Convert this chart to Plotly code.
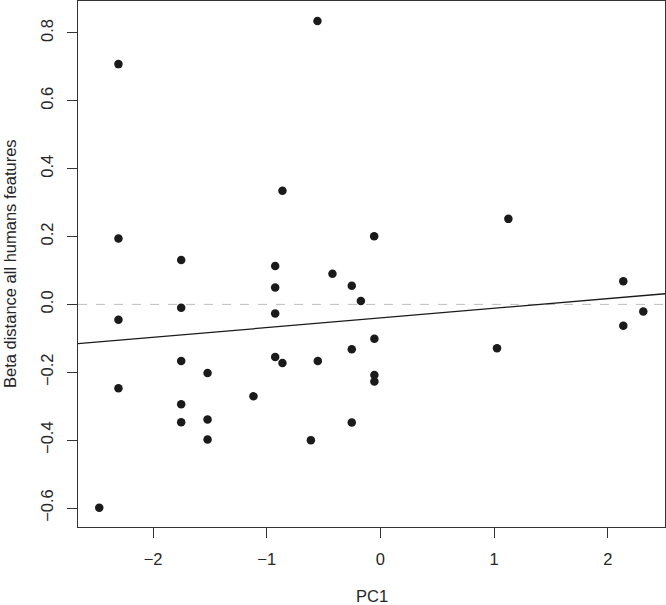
import plotly.graph_objects as go

pc1 = [-2.305, -2.305, -1.753, -0.862, -0.926, -0.926, -1.753, -2.305, -0.926, -1.753,
       -1.521, -2.305, -1.117, -0.926, -0.862, -1.753, -1.753, -1.521, -1.521, -2.474,
       -0.554, 1.126, -0.055, -0.422, -0.252, -0.172, 2.137, 2.313, 2.137, 1.026,
       -0.053, -0.252, -0.551, -0.053, -0.053, -0.252, -0.612]
beta = [0.708, 0.194, 0.131, 0.335, 0.113, 0.050, -0.010, -0.045, -0.027, -0.167,
        -0.202, -0.247, -0.271, -0.155, -0.173, -0.294, -0.347, -0.339, -0.398, -0.599,
        0.835, 0.252, 0.201, 0.090, 0.055, 0.010, 0.068, -0.021, -0.063, -0.129,
        -0.101, -0.132, -0.167, -0.208, -0.227, -0.348, -0.400]

fit_intercept = -0.040
fit_slope = 0.0285

x_ticks = [-2, -1, 0, 1, 2]
y_ticks = [-0.6, -0.4, -0.2, 0.0, 0.2, 0.4, 0.6, 0.8]
y_tick_labels = ["-0.6", "-0.4", "-0.2", "0.0", "0.2", "0.4", "0.6", "0.8"]
x_tick_labels = ["\u22122", "\u22121", "0", "1", "2"]
y_tick_labels = [s.replace("-", "\u2212") for s in y_tick_labels]

x_range = [-2.661, 2.504]
y_range = [-0.656, 0.894]

font_family = "Liberation Sans, Arial, Helvetica, sans-serif"
font_size = 16.5
text_color = "#262626"

fig = go.Figure()

fig.add_shape(type="line", xref="x", yref="y", x0=x_range[0], x1=x_range[1], y0=0, y1=0,
              line=dict(color="#bdbdbd", width=1, dash="dash"), layer="below")

fig.add_trace(go.Scatter(
    x=x_range,
    y=[fit_intercept + fit_slope * v for v in x_range],
    mode="lines", line=dict(color="#1a1a1a", width=1.3), hoverinfo="skip", showlegend=False))

fig.add_trace(go.Scatter(
    x=pc1, y=beta, mode="markers",
    marker=dict(size=8.5, color="#1a1a1a", line=dict(width=0)), showlegend=False))

axis_common = dict(
    showline=True, linecolor="#333333", linewidth=1, mirror=True,
    ticks="outside", ticklen=10, tickwidth=1, tickcolor="#333333",
    showgrid=False, zeroline=False,
    tickfont=dict(family=font_family, size=font_size, color=text_color),
)

fig.update_xaxes(range=x_range, tickvals=x_ticks, ticktext=x_tick_labels,
                 ticklabelstandoff=7, **axis_common)
fig.update_yaxes(range=y_range, tickvals=y_ticks, ticktext=y_tick_labels,
                 tickangle=-90, ticklabelstandoff=7, **axis_common)

fig.add_annotation(text="PC1", xref="paper", yref="paper", x=0.5, y=0,
                   xanchor="center", yanchor="middle", yshift=-69, showarrow=False,
                   font=dict(family=font_family, size=font_size, color=text_color))
fig.add_annotation(text="Beta distance all humans features", xref="paper", yref="paper",
                   x=0, y=0.5, xanchor="center", yanchor="middle", xshift=-68,
                   textangle=-90, showarrow=False,
                   font=dict(family=font_family, size=font_size, color=text_color))

fig.update_layout(
    width=666, height=605,
    margin=dict(l=78, r=1, t=1, b=78),
    plot_bgcolor="white", paper_bgcolor="white",
    showlegend=False,
)

fig.write_html("out.html", config={"displayModeBar": False},
               post_script="document.body.style.margin='0';document.body.style.overflow='hidden';")
